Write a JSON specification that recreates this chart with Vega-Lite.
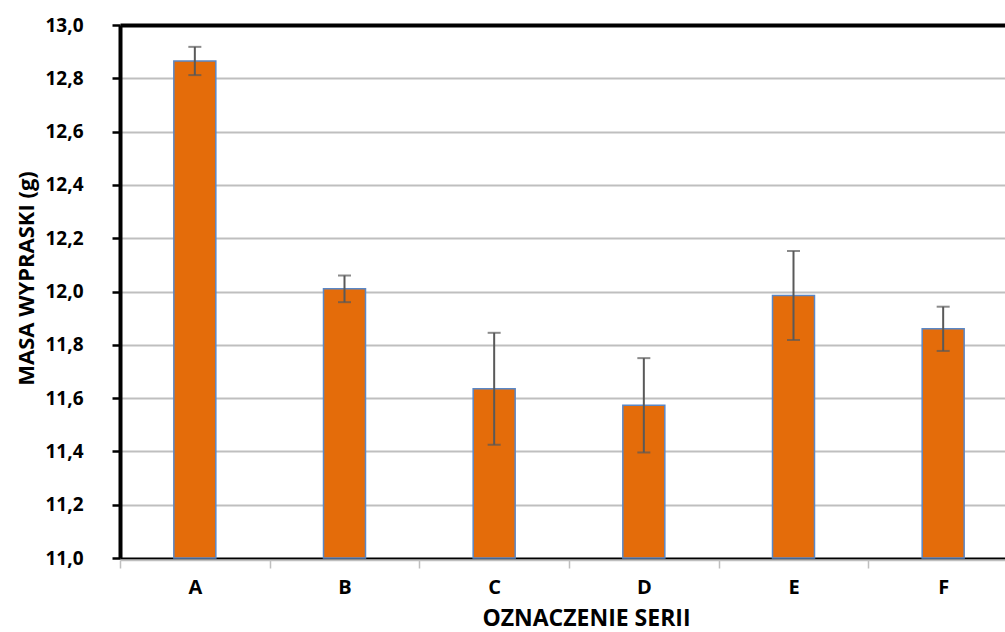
{
  "$schema": "https://vega.github.io/schema/vega-lite/v6.json",
  "autosize": "none",
  "width": 885,
  "height": 533,
  "padding": {"left": 120, "top": 25, "right": 0, "bottom": 74},
  "background": "white",
  "config": {
    "view": {"stroke": null},
    "font": "Open Sans"
  },
  "data": {
    "values": [
      {"seria": "A", "masa": 12.865, "lo": 12.812, "hi": 12.918},
      {"seria": "B", "masa": 12.01, "lo": 11.96, "hi": 12.06},
      {"seria": "C", "masa": 11.635, "lo": 11.425, "hi": 11.845},
      {"seria": "D", "masa": 11.573, "lo": 11.396, "hi": 11.75},
      {"seria": "E", "masa": 11.985, "lo": 11.818, "hi": 12.152},
      {"seria": "F", "masa": 11.86, "lo": 11.777, "hi": 11.943}
    ]
  },
  "encoding": {
    "x": {
      "field": "seria",
      "type": "nominal",
      "sort": null,
      "scale": {"range": [0, 898], "paddingInner": 0, "paddingOuter": 0},
      "axis": {
        "title": "OZNACZENIE SERII",
        "titleFont": "Open Sans",
        "titleFontSize": 23,
        "titleFontWeight": "bold",
        "titleColor": "#000",
        "titleX": 466,
        "titleY": 65,
        "titleAlign": "center",
        "titleBaseline": "alphabetic",
        "labelFont": "Open Sans",
        "labelFontSize": 20,
        "labelFontWeight": "bold",
        "labelColor": "#000",
        "labelAngle": 0,
        "labelBaseline": "alphabetic",
        "labelPadding": 25,
        "offset": 2,
        "domainColor": "#BFBFBF",
        "domainWidth": 1.5,
        "tickColor": "#BFBFBF",
        "tickWidth": 1.5,
        "tickSize": 8,
        "tickBand": "extent",
        "grid": false
      }
    }
  },
  "layer": [
    {
      "mark": {"type": "bar", "width": 42, "color": "#E46C0A", "stroke": "#5A87C6", "strokeWidth": 1.5},
      "encoding": {
        "y": {
          "field": "masa",
          "type": "quantitative",
          "scale": {"domain": [11, 13], "nice": false, "zero": false},
          "axis": {
            "values": [11, 11.2, 11.4, 11.6, 11.8, 12, 12.2, 12.4, 12.6, 12.8, 13],
            "labelExpr": "replace(format(datum.value, '.1f'), '.', ',')",
            "title": "MASA WYPRASKI (g)",
            "titleFont": "Open Sans",
            "titleFontSize": 22,
            "titleFontWeight": "bold",
            "titleColor": "#000",
            "titleAngle": 270,
            "titleX": -87,
            "titleY": 253,
            "titleAlign": "center",
            "titleBaseline": "alphabetic",
            "labelFont": "Open Sans",
            "labelFontSize": 19,
            "labelFontWeight": "bold",
            "labelColor": "#000",
            "labelPadding": 29,
            "labelBaseline": "middle",
            "domainColor": "#000",
            "domainWidth": 4,
            "tickColor": "#000",
            "tickWidth": 2.5,
            "tickSize": 8,
            "grid": true,
            "gridColor": {"condition": {"test": "datum.value === 13 || datum.value === 11", "value": "#000"}, "value": "#BFBFBF"},
            "gridWidth": {"condition": {"test": "datum.value === 13", "value": 4}, "value": 1.8}
          }
        },
        "y2": {"datum": 11}
      }
    },
    {
      "mark": {"type": "rule", "color": "#595959", "strokeWidth": 2},
      "encoding": {
        "y": {"field": "lo", "type": "quantitative"},
        "y2": {"field": "hi"}
      }
    },
    {
      "mark": {"type": "tick", "color": "#595959", "thickness": 2, "size": 13, "orient": "horizontal"},
      "encoding": {
        "y": {"field": "lo", "type": "quantitative"}
      }
    },
    {
      "mark": {"type": "tick", "color": "#595959", "thickness": 2, "size": 13, "orient": "horizontal"},
      "encoding": {
        "y": {"field": "hi", "type": "quantitative"}
      }
    }
  ]
}
